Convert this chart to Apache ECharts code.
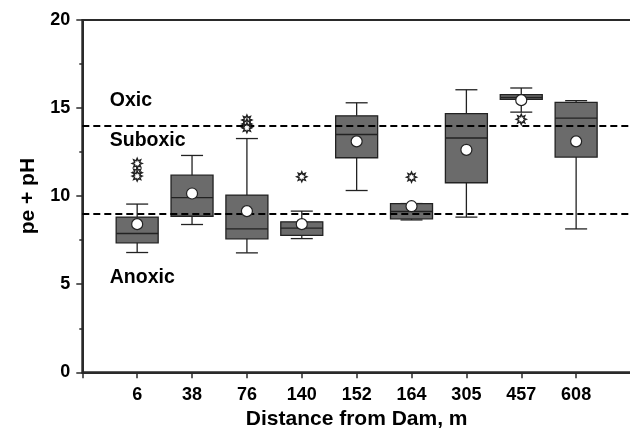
<!DOCTYPE html>
<html><head><meta charset="utf-8">
<script src="https://cdn.jsdelivr.net/npm/echarts@6/dist/echarts.min.js"></script>
<style>html,body{margin:0;padding:0;background:#fff}#c{width:630px;height:435px}</style>
</head><body><div id="c"></div>
<script>
// Categories (distance from dam, m)
const categories = ['6','38','76','140','152','164','305','457','608'];
// Box statistics per category: [min, Q1, median, Q3, max]
const boxMin    = [6.80, 8.39, 6.78, 7.59, 10.32, 8.65, 8.81, 14.77, 8.14];
const boxQ1     = [7.35, 8.86, 7.58, 7.77, 12.18, 8.71, 10.76, 15.49, 12.22];
const boxMedian = [7.88, 9.92, 8.14, 8.18, 13.50, 9.13, 13.30, 15.60, 14.43];
const boxQ3     = [8.81, 11.19, 10.06, 8.54, 14.56, 9.58, 14.69, 15.76, 15.32];
const boxMax    = [9.55, 12.31, 13.27, 9.15, 15.30, 9.58, 16.04, 16.14, 15.42];
const means     = [8.41, 10.15, 9.15, 8.41, 13.11, 9.43, 12.63, 15.45, 13.11];
// Outliers: [category index, value]
const outliers = [[0,11.86],[0,11.33],[0,11.14],[2,14.32],[2,14.09],[2,13.88],[3,11.10],[5,11.08],[7,14.36]];
// Reference lines
const thresholds = [14, 9];
// Zone annotations: [text, value]
const zones = [['Oxic',15.4],['Suboxic',13.15],['Anoxic',5.4]];
const yTicks = [0,5,10,15,20];

const FONT = '"Liberation Sans", Arial, sans-serif';
const boxData = categories.map((c,i)=>[i+1, boxMin[i], boxQ1[i], boxMedian[i], boxQ3[i], boxMax[i]]);
const meanData = categories.map((c,i)=>[i+1, means[i]]);
const outData = outliers.map(o=>[o[0]+1, o[1]]);

// 8-point star symbol path
let sp = 'path://';
for (let k=0;k<16;k++){
  const r = (k%2===0)?10:5.5;
  const a = Math.PI*k/8 - Math.PI/2;
  sp += (k===0?'M':'L') + (r*Math.cos(a)).toFixed(2)+' '+(r*Math.sin(a)).toFixed(2)+' ';
}
sp += 'Z';

const chart = echarts.init(document.getElementById('c'), null, {renderer:'canvas'});
chart.setOption({
  animation:false,
  grid:{left:82.3, top:20, right:-1, bottom:62.7, outerBoundsMode:'none', containLabel:false,
    show:true, borderColor:'#2a2a2a', borderWidth:2, backgroundColor:'transparent'},
  xAxis:{
    type:'value', min:0, max:10, interval:1,
    name:'Distance from Dam, m', nameLocation:'middle', nameGap:35,
    nameTextStyle:{fontFamily:FONT, fontWeight:'bold', fontSize:21, color:'#000'},
    axisLine:{show:true, onZero:false, lineStyle:{color:'#2a2a2a', width:2}},
    axisTick:{show:true, length:6, lineStyle:{color:'#2a2a2a', width:1.5}},
    axisLabel:{margin:14, fontFamily:FONT, fontWeight:'bold', fontSize:18, color:'#000',
      formatter:v=> (v>=1 && v<=9) ? categories[v-1] : ''},
    splitLine:{show:false}
  },
  yAxis:{
    type:'value', min:0, max:20, interval:5,
    name:'pe + pH', nameLocation:'middle', nameGap:44,
    nameTextStyle:{fontFamily:FONT, fontWeight:'bold', fontSize:21, color:'#000'},
    axisLine:{show:true, lineStyle:{color:'#2a2a2a', width:2}},
    axisTick:{show:true, length:6, lineStyle:{color:'#2a2a2a', width:1.5}},
    minorTick:{show:true, splitNumber:2, length:3, lineStyle:{color:'#2a2a2a', width:1.5}},
    axisLabel:{margin:12, fontFamily:FONT, fontWeight:'bold', fontSize:18, color:'#000',
      formatter:v=> yTicks.indexOf(v)>=0 ? String(v) : ''},
    splitLine:{show:false}
  },
  series:[
    {
      type:'line', data:[], z:1,
      markLine:{silent:true, symbol:'none', label:{show:false},
        lineStyle:{color:'#000', type:[7,4], width:1.8, opacity:1},
        data: thresholds.map(t=>({yAxis:t}))}
    },
    {
      type:'custom', z:3,
      data: boxData,
      encode:{x:0, y:[1,2,3,4,5]},
      renderItem:function(params, api){
        const x = api.value(0);
        const pMin = api.coord([x, api.value(1)]);
        const pQ1 = api.coord([x, api.value(2)]);
        const pMed = api.coord([x, api.value(3)]);
        const pQ3 = api.coord([x, api.value(4)]);
        const pMax = api.coord([x, api.value(5)]);
        const cx = pMin[0], hw = 21, cw = 11;
        const ls = {stroke:'#222', lineWidth:1.3};
        return {type:'group', children:[
          {type:'line', shape:{x1:cx, y1:pQ1[1], x2:cx, y2:pMin[1]}, style:ls},
          {type:'line', shape:{x1:cx, y1:pQ3[1], x2:cx, y2:pMax[1]}, style:ls},
          {type:'line', shape:{x1:cx-cw, y1:pMin[1], x2:cx+cw, y2:pMin[1]}, style:ls},
          {type:'line', shape:{x1:cx-cw, y1:pMax[1], x2:cx+cw, y2:pMax[1]}, style:ls},
          {type:'rect', shape:{x:cx-hw, y:pQ3[1], width:2*hw, height:pQ1[1]-pQ3[1]},
            style:{fill:'#6b6b6b', stroke:'#222', lineWidth:1.3}},
          {type:'line', shape:{x1:cx-hw, y1:pMed[1], x2:cx+hw, y2:pMed[1]}, style:ls}
        ]};
      }
    },
    {
      type:'scatter', z:5, data:meanData, symbol:'circle', symbolSize:11,
      itemStyle:{color:'#fff', borderColor:'#222', borderWidth:1.2, opacity:1}
    },
    {
      type:'scatter', z:5, data:outData, symbol:sp, symbolSize:10,
      itemStyle:{color:'#fff', borderColor:'#222', borderWidth:1.4, opacity:1}
    },
    {
      type:'scatter', z:6, symbolSize:0, itemStyle:{opacity:1},
      data: zones.map(z=>({name:z[0], value:[0.5, z[1]]})),
      label:{show:true, position:'right', distance:0, formatter:'{b}',
        fontFamily:FONT, fontWeight:'bold', fontSize:19.5, color:'#000', opacity:1}
    }
  ]
});
</script></body></html>
